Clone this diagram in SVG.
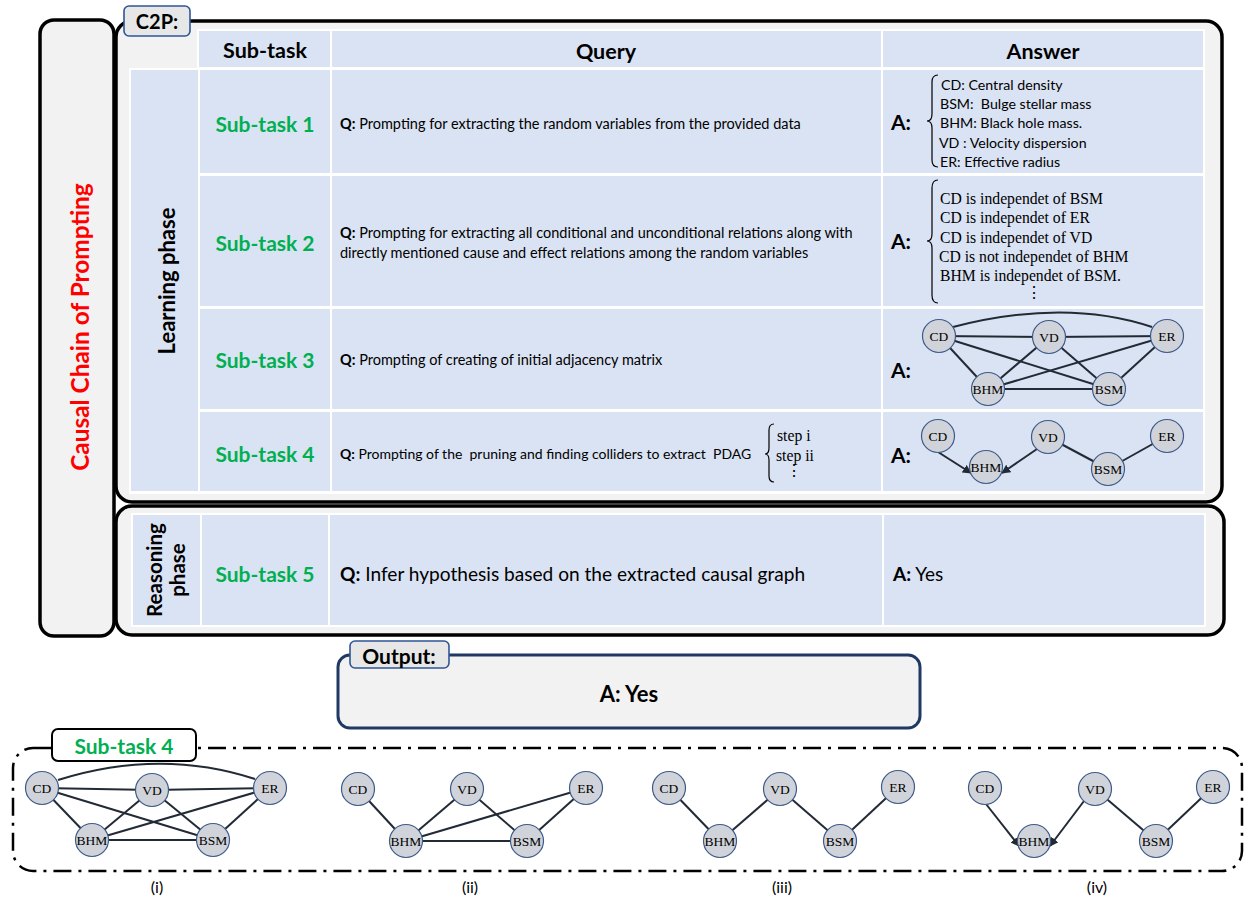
<svg xmlns="http://www.w3.org/2000/svg" width="1244" height="899" viewBox="0 0 1244 899">
<defs>
<style>
text{font-family:Lato,"Liberation Sans",sans-serif;fill:#000;white-space:pre}
.box{fill:#f2f2f2;stroke:#000;stroke-width:3.5}
.cell{fill:#dae3f3}
.wb{fill:#fff}
.hdr{font-weight:bold;font-size:21.5px;text-anchor:middle;dominant-baseline:central}
.st{fill:#00b050;font-weight:bold;font-size:21px;text-anchor:middle;dominant-baseline:central}
.q{font-size:14.5px;dominant-baseline:central}
.al{font-weight:bold;font-size:21px;dominant-baseline:central}
.ans{font-size:14.2px;dominant-baseline:central}
.ser{font-family:"Liberation Serif",serif;font-size:15.7px;dominant-baseline:central}
.brace{fill:none;stroke:#000;stroke-width:1.2}
.tag{fill:#e7e7e7;stroke:#2f5597;stroke-width:1.6}
.node circle{fill:#d0d3d9;stroke:#3d5a8a;stroke-width:1.2}
.node text{font-family:"Liberation Serif",serif;font-size:13.5px;text-anchor:middle;dominant-baseline:central}
.edge{stroke:#222a35;stroke-width:2;fill:none}
.arr{marker-end:url(#ah)}
.cap{font-size:16px;text-anchor:middle;dominant-baseline:central}
</style>
<marker id="ah" viewBox="0 0 10 10" refX="9" refY="5" markerWidth="9" markerHeight="9" markerUnits="userSpaceOnUse" orient="auto">
<path d="M0,0 L10,5 L0,10 z" fill="#222a35"/>
</marker>
</defs>
<rect width="1244" height="899" fill="#fff"/>

<!-- left column -->
<g id="c2p-title">
<rect class="box" x="40" y="20" width="74" height="616" rx="14"/>
<text transform="translate(79,327) rotate(-90)" text-anchor="middle" dominant-baseline="central" font-weight="bold" font-size="24.4" style="fill:#ff0000">Causal Chain of Prompting</text>
</g>

<!-- C2P learning box -->
<g id="c2p-box">
<rect class="box" x="116" y="21" width="1106" height="481" rx="16"/>
<rect class="wb" x="197" y="29" width="1008" height="41"/>
<rect class="wb" x="129" y="68" width="1076" height="426"/>
<rect class="cell" x="199" y="31" width="131" height="36"/>
<rect class="cell" x="332" y="31" width="549" height="36"/>
<rect class="cell" x="883" y="31" width="320" height="36"/>
<text class="hdr" x="265" y="50">Sub-task</text>
<text class="hdr" x="606" y="51">Query</text>
<text class="hdr" x="1043" y="51">Answer</text>
<rect class="cell" x="131" y="70" width="67" height="421"/>
<text transform="translate(166,281) rotate(-90)" text-anchor="middle" dominant-baseline="central" font-weight="bold" font-size="22">Learning phase</text>
</g>
<g id="c2p-label">
<rect class="tag" x="124" y="6" width="66" height="30" rx="5"/>
<text x="157" y="21" text-anchor="middle" dominant-baseline="central" font-weight="bold" font-size="20">C2P:</text>
</g>

<!-- row 1 -->
<g id="row1">
<rect class="cell" x="200" y="70" width="130" height="103"/>
<rect class="cell" x="332" y="70" width="549" height="103"/>
<rect class="cell" x="883" y="70" width="320" height="103"/>
<text class="st" x="265" y="123">Sub-task 1</text>
<text class="q" x="340" y="123"><tspan font-weight="bold">Q:</tspan> Prompting for extracting the random variables from the provided data</text>
<text class="al" x="891" y="121">A:</text>
<path class="brace" d="M938,75 Q932,75 932,82 L932,114 Q932,121 927,121 Q932,121 932,128 L932,160 Q932,167 938,167"/>
<text class="ans" x="941" y="84">CD: Central density</text>
<text class="ans" x="940" y="103">BSM:  Bulge stellar mass</text>
<text class="ans" x="940" y="122">BHM: Black hole mass.</text>
<text class="ans" x="939" y="142">VD : Velocity dispersion</text>
<text class="ans" x="940" y="161">ER: Effective radius</text>
</g>

<!-- row 2 -->
<g id="row2">
<rect class="cell" x="200" y="176" width="130" height="130"/>
<rect class="cell" x="332" y="176" width="549" height="130"/>
<rect class="cell" x="883" y="176" width="320" height="130"/>
<text class="st" x="265" y="242">Sub-task 2</text>
<text class="q" x="340" y="232"><tspan font-weight="bold">Q:</tspan> Prompting for extracting all conditional and unconditional relations along with</text>
<text class="q" x="340" y="252">directly mentioned cause and effect relations among the random variables</text>
<text class="al" x="891" y="240">A:</text>
<path class="brace" d="M938,180 Q932,180 932,188 L932,234 Q932,241 927,241 Q932,241 932,248 L932,295 Q932,303 938,303"/>
<text class="ser" x="940" y="198">CD is independet of BSM</text>
<text class="ser" x="940" y="217">CD is independet of ER</text>
<text class="ser" x="940" y="237">CD is independet of VD</text>
<text class="ser" x="939" y="256">CD is not independet of BHM</text>
<text class="ser" x="940" y="275">BHM is independet of BSM.</text>
<text class="ser" x="1034" y="292" text-anchor="middle">⋮</text>
</g>

<!-- row 3 -->
<g id="row3">
<rect class="cell" x="200" y="309" width="130" height="100"/>
<rect class="cell" x="332" y="309" width="549" height="100"/>
<rect class="cell" x="883" y="309" width="320" height="100"/>
<text class="st" x="265" y="359">Sub-task 3</text>
<text class="q" x="340" y="359"><tspan font-weight="bold">Q:</tspan> Prompting of creating of initial adjacency matrix</text>
<text class="al" x="891" y="369">A:</text>
</g>

<!-- row 4 -->
<g id="row4">
<rect class="cell" x="200" y="412" width="130" height="79"/>
<rect class="cell" x="332" y="412" width="549" height="79"/>
<rect class="cell" x="883" y="412" width="320" height="79"/>
<text class="st" x="265" y="453">Sub-task 4</text>
<text x="340" y="453" font-size="14" dominant-baseline="central"><tspan font-weight="bold">Q:</tspan> Prompting of the  pruning and finding colliders to extract  PDAG</text>
<path class="brace" d="M774,424 Q769,424 769,430 L769,448 Q769,454 765,454 Q769,454 769,460 L769,476 Q769,482 774,482"/>
<text class="ser" x="777" y="435" font-size="14.5">step i</text>
<text class="ser" x="776" y="455" font-size="14.5">step ii</text>
<text class="ser" x="794" y="470" font-size="14.5" text-anchor="middle">⋮</text>
<text class="al" x="891" y="454">A:</text>
</g>

<!-- reasoning box -->
<g id="reasoning-box">
<rect class="box" x="116" y="506" width="1108" height="129" rx="16"/>
<rect class="wb" x="131" y="513" width="1075" height="114"/>
<rect class="cell" x="133" y="515" width="67" height="110"/>
<rect class="cell" x="202" y="515" width="126" height="110"/>
<rect class="cell" x="330" y="515" width="552" height="110"/>
<rect class="cell" x="884" y="515" width="320" height="110"/>
<text transform="translate(166,570) rotate(-90)" text-anchor="middle" font-weight="bold" font-size="20.5"><tspan x="0" y="-4">Reasoning</tspan><tspan x="0" y="19">phase</tspan></text>
<text class="st" x="265" y="573">Sub-task 5</text>
<text x="340" y="573" font-size="19.1" dominant-baseline="central"><tspan font-weight="bold">Q:</tspan> Infer hypothesis based on the extracted causal graph</text>
<text x="893" y="573" font-size="19" dominant-baseline="central"><tspan font-weight="bold">A:</tspan> Yes</text>
</g>

<!-- output -->
<g id="output">
<rect x="338" y="655" width="582" height="73" rx="12" fill="#f2f2f2" stroke="#203864" stroke-width="3"/>
<text x="629" y="693" text-anchor="middle" dominant-baseline="central" font-weight="bold" font-size="22">A: Yes</text>
</g>
<g id="output-label">
<rect class="tag" x="350" y="641" width="99" height="27" rx="5"/>
<text x="399" y="655" text-anchor="middle" dominant-baseline="central" font-weight="bold" font-size="21">Output:</text>
</g>

<!-- bottom panel -->
<g id="subtask4-panel">
<rect x="13" y="748" width="1229" height="123" rx="20" fill="none" stroke="#000" stroke-width="2.5" stroke-dasharray="18 7 3 7"/>
<rect x="52" y="729" width="144" height="32" rx="6" fill="#fff" stroke="#000" stroke-width="2"/>
<text class="st" x="124" y="745" font-size="21.5">Sub-task 4</text>
<text class="cap" x="157" y="886">(i)</text>
<text class="cap" x="470" y="886">(ii)</text>
<text class="cap" x="782" y="886">(iii)</text>
<text class="cap" x="1097" y="886">(iv)</text>
</g>

<!-- connectors -->
<g id="connectors">
<path class="edge" d="M953,327 Q1065,298 1152,327"/>
<line class="edge" x1="939" y1="336" x2="1049" y2="337"/>
<line class="edge" x1="1049" y1="337" x2="1167" y2="336"/>
<line class="edge" x1="939" y1="336" x2="988" y2="389"/>
<line class="edge" x1="939" y1="336" x2="1109" y2="389"/>
<line class="edge" x1="1049" y1="337" x2="988" y2="389"/>
<line class="edge" x1="1049" y1="337" x2="1109" y2="389"/>
<line class="edge" x1="1167" y1="336" x2="988" y2="389"/>
<line class="edge" x1="1167" y1="336" x2="1109" y2="389"/>
<line class="edge" x1="988" y1="389" x2="1109" y2="389"/>
<line class="edge arr" x1="938" y1="452" x2="971" y2="473"/>
<line class="edge arr" x1="1037" y1="449" x2="1002" y2="473"/>
<line class="edge" x1="1048" y1="437" x2="1108" y2="469"/>
<line class="edge" x1="1167" y1="436" x2="1108" y2="469"/>
<path class="edge" d="M58,780 Q160,748 255,779"/>
<line class="edge" x1="42" y1="788" x2="152" y2="790"/>
<line class="edge" x1="152" y1="790" x2="270" y2="788"/>
<line class="edge" x1="42" y1="788" x2="92" y2="840"/>
<line class="edge" x1="42" y1="788" x2="213" y2="840"/>
<line class="edge" x1="152" y1="790" x2="92" y2="840"/>
<line class="edge" x1="152" y1="790" x2="213" y2="840"/>
<line class="edge" x1="270" y1="788" x2="92" y2="840"/>
<line class="edge" x1="270" y1="788" x2="213" y2="840"/>
<line class="edge" x1="92" y1="840" x2="213" y2="840"/>
<line class="edge" x1="358" y1="789" x2="406" y2="841"/>
<line class="edge" x1="467" y1="789" x2="406" y2="841"/>
<line class="edge" x1="467" y1="789" x2="527" y2="841"/>
<line class="edge" x1="586" y1="788" x2="406" y2="841"/>
<line class="edge" x1="586" y1="788" x2="527" y2="841"/>
<line class="edge" x1="406" y1="841" x2="527" y2="841"/>
<line class="edge" x1="669" y1="788" x2="720" y2="841"/>
<line class="edge" x1="780" y1="789" x2="720" y2="841"/>
<line class="edge" x1="780" y1="789" x2="840" y2="841"/>
<line class="edge" x1="898" y1="787" x2="840" y2="841"/>
<line class="edge arr" x1="986" y1="804" x2="1019" y2="846"/>
<line class="edge arr" x1="1084" y1="801" x2="1050" y2="846"/>
<line class="edge" x1="1095" y1="789" x2="1156" y2="841"/>
<line class="edge" x1="1213" y1="787" x2="1156" y2="841"/>
</g>

<g id="r3-CD" class="node"><circle cx="939" cy="336" r="16.5"/><text x="939" y="336">CD</text></g>
<g id="r3-VD" class="node"><circle cx="1049" cy="337" r="16.5"/><text x="1049" y="337">VD</text></g>
<g id="r3-ER" class="node"><circle cx="1167" cy="336" r="16.5"/><text x="1167" y="336">ER</text></g>
<g id="r3-BHM" class="node"><circle cx="988" cy="389" r="16.5"/><text x="988" y="389">BHM</text></g>
<g id="r3-BSM" class="node"><circle cx="1109" cy="389" r="16.5"/><text x="1109" y="389">BSM</text></g>
<g id="r4-CD" class="node"><circle cx="938" cy="436" r="16.5"/><text x="938" y="436">CD</text></g>
<g id="r4-VD" class="node"><circle cx="1048" cy="437" r="16.5"/><text x="1048" y="437">VD</text></g>
<g id="r4-ER" class="node"><circle cx="1167" cy="436" r="16.5"/><text x="1167" y="436">ER</text></g>
<g id="r4-BHM" class="node"><circle cx="986" cy="467" r="16.5"/><text x="986" y="467">BHM</text></g>
<g id="r4-BSM" class="node"><circle cx="1108" cy="469" r="16.5"/><text x="1108" y="469">BSM</text></g>
<g id="g1-CD" class="node"><circle cx="42" cy="788" r="16.5"/><text x="42" y="788">CD</text></g>
<g id="g1-VD" class="node"><circle cx="152" cy="790" r="16.5"/><text x="152" y="790">VD</text></g>
<g id="g1-ER" class="node"><circle cx="270" cy="788" r="16.5"/><text x="270" y="788">ER</text></g>
<g id="g1-BHM" class="node"><circle cx="92" cy="840" r="16.5"/><text x="92" y="840">BHM</text></g>
<g id="g1-BSM" class="node"><circle cx="213" cy="840" r="16.5"/><text x="213" y="840">BSM</text></g>
<g id="g2-CD" class="node"><circle cx="358" cy="789" r="16.5"/><text x="358" y="789">CD</text></g>
<g id="g2-VD" class="node"><circle cx="467" cy="789" r="16.5"/><text x="467" y="789">VD</text></g>
<g id="g2-ER" class="node"><circle cx="586" cy="788" r="16.5"/><text x="586" y="788">ER</text></g>
<g id="g2-BHM" class="node"><circle cx="406" cy="841" r="16.5"/><text x="406" y="841">BHM</text></g>
<g id="g2-BSM" class="node"><circle cx="527" cy="841" r="16.5"/><text x="527" y="841">BSM</text></g>
<g id="g3-CD" class="node"><circle cx="669" cy="788" r="16.5"/><text x="669" y="788">CD</text></g>
<g id="g3-VD" class="node"><circle cx="780" cy="789" r="16.5"/><text x="780" y="789">VD</text></g>
<g id="g3-ER" class="node"><circle cx="898" cy="787" r="16.5"/><text x="898" y="787">ER</text></g>
<g id="g3-BHM" class="node"><circle cx="720" cy="841" r="16.5"/><text x="720" y="841">BHM</text></g>
<g id="g3-BSM" class="node"><circle cx="840" cy="841" r="16.5"/><text x="840" y="841">BSM</text></g>
<g id="g4-CD" class="node"><circle cx="985" cy="788" r="16.5"/><text x="985" y="788">CD</text></g>
<g id="g4-VD" class="node"><circle cx="1095" cy="789" r="16.5"/><text x="1095" y="789">VD</text></g>
<g id="g4-ER" class="node"><circle cx="1213" cy="787" r="16.5"/><text x="1213" y="787">ER</text></g>
<g id="g4-BHM" class="node"><circle cx="1034" cy="841" r="16.5"/><text x="1034" y="841">BHM</text></g>
<g id="g4-BSM" class="node"><circle cx="1156" cy="841" r="16.5"/><text x="1156" y="841">BSM</text></g>
</svg>
